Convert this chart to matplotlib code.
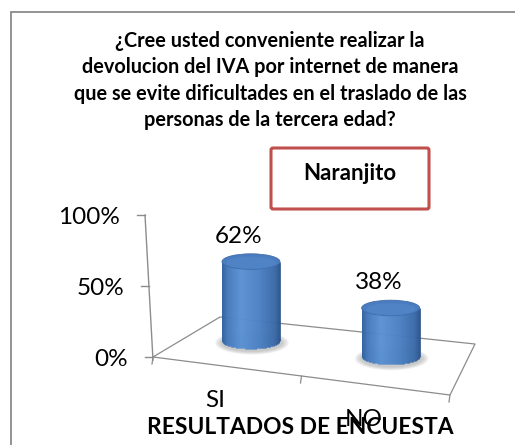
import matplotlib
matplotlib.use("Agg")
import matplotlib.pyplot as plt
import numpy as np
from matplotlib.transforms import Affine2D
from matplotlib.patches import Ellipse, FancyBboxPatch
from matplotlib.collections import LineCollection
from matplotlib.colors import to_rgb

# data
title_lines = ["¿Cree usted conveniente realizar la",
               "devolucion del IVA por internet de manera",
               "que se evite dificultades en el traslado de las",
               "personas de la tercera edad?"]
legend_label = "Naranjito"
categories = ["SI", "NO"]
values = [0.62, 0.38]
value_labels = ["62%", "38%"]
value_ticks = [0.0, 0.5, 1.0]
tick_labels = ["0%", "50%", "100%"]
axis_title = "RESULTADOS DE ENCUESTA"

plt.rcParams['font.family'] = ['Lato', 'DejaVu Sans']

W, H = 515, 445
fig = plt.figure(figsize=(W / 100, H / 100), dpi=100)
fig.patch.set_facecolor('white')

# canvas in image pixels (y down) for drawing
canvas = fig.add_axes([0, 0, 1, 1])
canvas.set_xlim(0, W)
canvas.set_ylim(H, 0)
canvas.axis('off')

# value axes = front plane of the 3d box
ax = fig.add_axes([153 / W, 88 / H, 297 / W, 142 / H])
ax.set_xlim(0, len(categories))
ax.set_ylim(0, 1)
ax.axis('off')

# floor shear (display coords), axis slant, depth vectors
s = 38 / 297.0
x0, y0 = ax.transData.transform((0, 0))
front = ax.transData + Affine2D(np.array([[1, 0, 0], [-s, 1, s * x0], [0, 0, 1]]))
slant = 8 / 142.0
axis_tr = front + Affine2D(np.array([[1, -slant, slant * y0], [0, 1, 0], [0, 0, 1]]))
depth_left = np.array([67.0, 40.0])
depth_right = np.array([25.0, 51.0])
row_depth = np.array([0.42, 0.6])
k_depth = 0.9


def depth(c):
    f = c / len(categories)
    return depth_left + (depth_right - depth_left) * f


def img(p):
    return canvas.transData.inverted().transform(p)


grey = '#8c8c8c'

# border of chart area
canvas.plot([11, 11, W + 5], [H + 5, 12, 12], color='#8a8a8a', lw=1.3,
            solid_joinstyle='miter')

# title
for i, line in enumerate(title_lines):
    canvas.text(270, 41 + i * 26.3, line, ha='center', va='center',
                fontsize=14.3, fontweight='bold', color='black')

# legend box
canvas.add_patch(FancyBboxPatch((271, 148), 158, 61,
                                boxstyle='round,pad=0,rounding_size=2',
                                fc='white', ec='#c0504d', lw=2.2))
canvas.text(350, 173, legend_label, ha='center', va='center',
            fontsize=16, fontweight='bold', color='black')

# floor
n = len(categories)
fl = front.transform((0, 0))
fr = front.transform((n, 0))
bl = fl + depth(0)
br = fr + depth(n)
floor = img(np.array([fl, fr, br, bl, fl]))
canvas.plot(floor[:, 0], floor[:, 1], color=grey, lw=0.9, zorder=1)

# category ticks
for c in range(n + 1):
    p = img(front.transform((c, 0)))
    canvas.plot([p[0], p[0] - 1], [p[1], p[1] + 7], color=grey, lw=0.9, zorder=1)

# value axis
a0 = img(axis_tr.transform((0, 0)))
a1 = img(axis_tr.transform((0, 1)))
canvas.plot([a0[0], a1[0]], [a0[1] + 3, a1[1]], color=grey, lw=1.0, zorder=1)
for t, lab in zip(value_ticks, tick_labels):
    p = img(axis_tr.transform((0, t)))
    canvas.plot([p[0] - 8, p[0]], [p[1], p[1]], color=grey, lw=1.0, zorder=1)
    canvas.text(p[0] - 25, p[1] + 3, lab, ha='right', va='center',
                fontsize=17.5, color='black')

# cylinders
stops = [-1, -0.8, -0.35, 0.3, 0.8, 1]
stop_cols = np.array([to_rgb(c) for c in
                      ['#30609c', '#4579bc', '#5b91d3', '#4b80c2', '#3b6ba9', '#2b548b']])
rx, ry = 29.0, 7.8
for i, (cat, v, vl) in enumerate(zip(categories, values, value_labels)):
    c = i + 0.5
    base_d = front.transform((c, 0)) + row_depth * depth(c)
    top_d = base_d + (front.transform((c, v * k_depth)) - front.transform((c, 0)))
    bx, by = img(base_d)
    _, ty = img(top_d)

    # soft shadow
    for j in range(6):
        canvas.add_patch(Ellipse((bx + 1, by + 2), 2 * rx + 16 - 2.5 * j,
                                 2 * ry + 8 - 1.2 * j, fc='#707070',
                                 ec='none', alpha=0.07, zorder=2))

    us = np.linspace(-rx, rx, int(rx * 4) + 1)
    segs, cols = [], []
    for u in us:
        t = u / rx
        bottom = by + ry * np.sqrt(max(0.0, 1 - t * t))
        segs.append([(bx + u, ty), (bx + u, bottom)])
        cols.append([np.interp(t, stops, stop_cols[:, ch]) for ch in range(3)])
    canvas.add_collection(LineCollection(segs, colors=cols, lw=0.6, zorder=3))

    canvas.add_patch(Ellipse((bx, ty), 2 * rx, 2 * ry, fc='#4a7cbf',
                             ec='#3e6dab', lw=0.6, zorder=4))
    canvas.add_patch(Ellipse((bx, ty + 1.2), 2 * rx - 8, 2 * ry - 3.5,
                             fc='#4f83c5', ec='none', zorder=4))

    canvas.text(bx - 12, ty - 25, vl, ha='center', va='center',
                fontsize=17.5, color='black', zorder=5)

    p = img(front.transform((c, 0)))
    canvas.text(p[0] - 12, p[1] + 34.5, cat, ha='center', va='center',
                fontsize=17.5, color='black', zorder=5)

# axis title
canvas.text(300, 428, axis_title, ha='center', va='center',
            fontsize=16.4, fontweight='bold', color='black', zorder=6)

fig.savefig('out.png', dpi=100, facecolor='white')
